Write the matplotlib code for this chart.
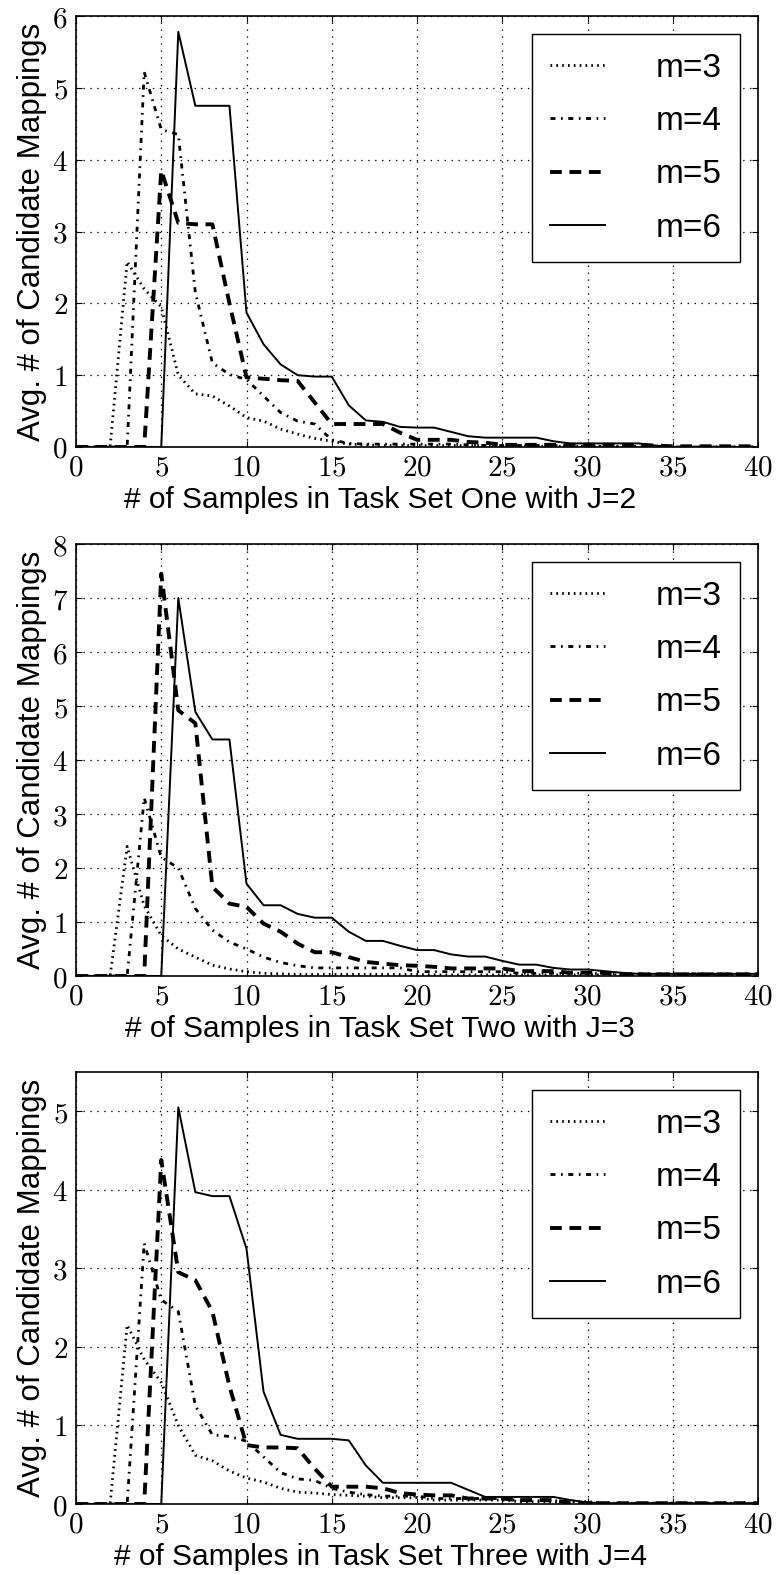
import matplotlib
matplotlib.use("Agg")
import matplotlib.pyplot as plt
from matplotlib.ticker import FuncFormatter

plt.rcParams['mathtext.fontset'] = 'cm'
plt.rcParams['lines.scale_dashes'] = False
plt.rcParams['font.family'] = ['Liberation Sans', 'DejaVu Sans']

x = list(range(41))

xlabels = ["# of Samples in Task Set One with J=2",
           "# of Samples in Task Set Two with J=3",
           "# of Samples in Task Set Three with J=4"]
series_names = ["m=3", "m=4", "m=5", "m=6"]
ylims = [6, 8, 5.5]

# Panel 1 (J=2)
p1_m3 = [0, 0, 0, 2.58, 2.2, 1.95, 1.0, 0.74, 0.71, 0.57, 0.41, 0.36, 0.25, 0.18, 0.12, 0.08,
         0.04, 0.03, 0.02, 0.02, 0.02, 0.02, 0.02, 0.02, 0.02, 0.02, 0.01, 0.01, 0.01, 0.01, 0.01,
         0.01, 0, 0, 0, 0, 0, 0, 0, 0, 0]
p1_m4 = [0, 0, 0, 0, 5.22, 4.42, 4.35, 2.15, 1.17, 1.01, 0.94, 0.71, 0.48, 0.36, 0.32, 0.1,
         0.05, 0.04, 0.04, 0.04, 0.04, 0.04, 0.04, 0.03, 0.02, 0.02, 0.02, 0.02, 0.02, 0.01, 0.01,
         0.01, 0.01, 0.01, 0.01, 0, 0, 0, 0, 0, 0]
p1_m5 = [0, 0, 0, 0, 0, 3.85, 3.12, 3.1, 3.1, 2.0, 0.97, 0.95, 0.93, 0.92, 0.62, 0.32,
         0.32, 0.32, 0.32, 0.2, 0.1, 0.1, 0.1, 0.07, 0.06, 0.03, 0.03, 0.03, 0.03, 0.03, 0.03,
         0.03, 0.03, 0.03, 0.02, 0.01, 0.01, 0.01, 0.01, 0.01, 0.01]
p1_m6 = [0, 0, 0, 0, 0, 0, 5.78, 4.75, 4.75, 4.75, 1.87, 1.43, 1.15, 1.0, 0.98, 0.98,
         0.58, 0.37, 0.35, 0.28, 0.27, 0.27, 0.21, 0.15, 0.13, 0.13, 0.13, 0.13, 0.08, 0.05, 0.05,
         0.05, 0.05, 0.05, 0.02, 0, 0, 0, 0, 0, 0]

# Panel 2 (J=3)
p2_m3 = [0, 0, 0, 2.4, 1.3, 0.75, 0.5, 0.35, 0.2, 0.13, 0.08, 0.05, 0.04, 0.03, 0.03, 0.03,
         0.03, 0.03, 0.03, 0.03, 0.03, 0.02, 0.02, 0.02, 0.02, 0.02, 0.02, 0.02, 0.02, 0.02, 0.02,
         0.02, 0.02, 0.02, 0.02, 0.02, 0.02, 0.02, 0.02, 0.02, 0.02]
p2_m4 = [0, 0, 0, 0, 3.3, 2.2, 2.0, 1.25, 0.85, 0.63, 0.5, 0.35, 0.25, 0.19, 0.15, 0.15,
         0.15, 0.15, 0.15, 0.15, 0.08, 0.08, 0.08, 0.08, 0.08, 0.08, 0.05, 0.05, 0.05, 0.05, 0.05,
         0.04, 0.04, 0.04, 0.04, 0.04, 0.04, 0.04, 0.04, 0.04, 0.04]
p2_m5 = [0, 0, 0, 0, 0, 7.45, 4.92, 4.68, 1.65, 1.34, 1.28, 0.97, 0.82, 0.6, 0.44, 0.44,
         0.35, 0.26, 0.23, 0.2, 0.19, 0.17, 0.14, 0.14, 0.14, 0.14, 0.09, 0.09, 0.09, 0.06, 0.06,
         0.06, 0.03, 0.03, 0.03, 0.03, 0.03, 0.03, 0.03, 0.03, 0.03]
p2_m6 = [0, 0, 0, 0, 0, 0, 7.0, 4.89, 4.38, 4.38, 1.71, 1.31, 1.31, 1.15, 1.08, 1.08,
         0.82, 0.65, 0.65, 0.56, 0.48, 0.48, 0.40, 0.36, 0.36, 0.28, 0.21, 0.21, 0.15, 0.12, 0.12,
         0.09, 0.06, 0.04, 0.04, 0.04, 0.04, 0.04, 0.04, 0.04, 0.04]

# Panel 3 (J=4)
p3_m3 = [0, 0, 0, 2.28, 1.84, 1.55, 1.0, 0.62, 0.55, 0.42, 0.33, 0.28, 0.2, 0.15, 0.14, 0.12,
         0.11, 0.1, 0.08, 0.08, 0.08, 0.05, 0.05, 0.05, 0.05, 0.05, 0.03, 0.03, 0.03, 0.03, 0.03,
         0.01, 0.01, 0.01, 0.01, 0.01, 0.01, 0.01, 0.01, 0.01, 0.01]
p3_m4 = [0, 0, 0, 0, 3.32, 2.6, 2.45, 1.25, 0.88, 0.86, 0.8, 0.6, 0.4, 0.32, 0.3, 0.2,
         0.15, 0.12, 0.1, 0.1, 0.1, 0.07, 0.07, 0.07, 0.07, 0.07, 0.04, 0.04, 0.04, 0.04, 0.01,
         0.01, 0.01, 0.01, 0.01, 0.01, 0.01, 0.01, 0.01, 0.01, 0.01]
p3_m5 = [0, 0, 0, 0, 0, 4.38, 2.95, 2.85, 2.45, 1.5, 0.75, 0.72, 0.72, 0.71, 0.45, 0.22,
         0.22, 0.22, 0.2, 0.14, 0.12, 0.11, 0.11, 0.07, 0.07, 0.07, 0.05, 0.05, 0.05, 0.01, 0.01,
         0.01, 0.01, 0.01, 0.01, 0.01, 0.01, 0.01, 0.01, 0.01, 0.01]
p3_m6 = [0, 0, 0, 0, 0, 0, 5.05, 3.97, 3.92, 3.92, 3.25, 1.43, 0.88, 0.83, 0.83, 0.83,
         0.81, 0.49, 0.27, 0.27, 0.27, 0.27, 0.27, 0.18, 0.09, 0.09, 0.09, 0.09, 0.09, 0.05, 0.02,
         0.01, 0.01, 0.01, 0.01, 0.01, 0.01, 0.01, 0.01, 0.01, 0.01]

panels = [[p1_m3, p1_m4, p1_m5, p1_m6],
          [p2_m3, p2_m4, p2_m5, p2_m6],
          [p3_m3, p3_m4, p3_m5, p3_m6]]

styles = [dict(lw=2.0, dashes=(1.2, 3.0)),
          dict(lw=2.0, dashes=(3.6, 4.0, 1.2, 4.0)),
          dict(lw=2.8, dashes=(8.5, 5.5)),
          dict(lw=1.4, linestyle='-')]

fig = plt.figure(figsize=(7.79, 15.74), dpi=100)
W, H = 779.0, 1574.0
boxes = [(16, 447), (544, 976), (1072, 1504)]
L, R = 76, 758

fmt = FuncFormatter(lambda v, p: r'$%d$' % int(round(v)))

for i, (top, bot) in enumerate(boxes):
    ax = fig.add_axes([L / W, 1 - bot / H, (R - L) / W, (bot - top) / H])
    for vals, name, st in zip(panels[i], series_names, styles):
        ax.plot(x, vals, color='black', label=name, **st)
    ax.set_xlim(0, 40)
    ax.set_ylim(0, ylims[i])
    ax.set_xticks(range(0, 41, 5))
    ax.set_yticks(range(0, int(ylims[i]) + 1))
    ax.xaxis.set_major_formatter(fmt)
    ax.yaxis.set_major_formatter(fmt)
    ax.tick_params(direction='in', top=True, right=True, length=4, width=0.8,
                   labelsize=21)
    ax.tick_params(axis='x', pad=5)
    ax.tick_params(axis='y', pad=6)
    ax.grid(True, color='black', linestyle=(0, (1, 4)), linewidth=0.9)
    for s in ax.spines.values():
        s.set_linewidth(1.2)
    ax.set_xlabel(xlabels[i], fontsize=21.5)
    ax.xaxis.set_label_coords((380 - L) / (R - L), -(53.0 / (bot - top)))
    ax.xaxis.label.set_verticalalignment('center')
    ax.set_ylabel("Avg. # of Candidate Mappings", fontsize=22.5)
    ax.yaxis.set_label_coords(-(44.0 / (R - L)), 0.5)
    ax.yaxis.label.set_verticalalignment('center')
    leg = ax.legend(loc='upper right', fontsize=24, handlelength=1.65,
                    handletextpad=1.5, labelspacing=0.67, borderpad=0.55,
                    borderaxespad=0.55, fancybox=False, framealpha=1)
    leg.get_frame().set_edgecolor('black')
    leg.get_frame().set_linewidth(1.0)

fig.savefig("out.png", dpi=100)
